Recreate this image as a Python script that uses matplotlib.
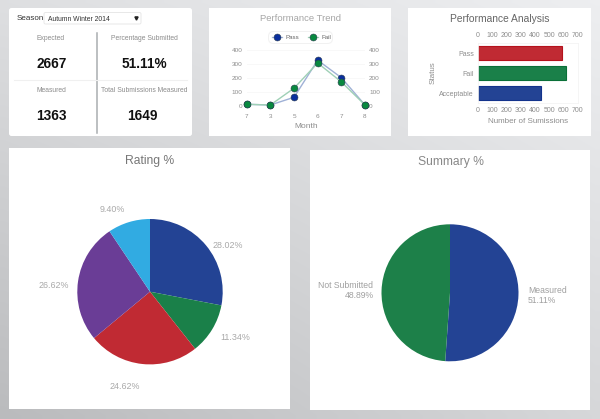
import numpy as np
import matplotlib
matplotlib.use("Agg")
import matplotlib.pyplot as plt
from matplotlib.patches import Rectangle, FancyBboxPatch

plt.rcParams['font.family'] = ['Liberation Sans', 'DejaVu Sans']

W, H = 600, 419

season_label = "Season"
season_value = "Autumn Winter 2014"
kpi_labels = ["Expected", "Percentage Submitted", "Measured", "Total Submissions Measured"]
kpi_values = ["2667", "51.11%", "1363", "1649"]

trend_months = ["7", "3", "5", "6", "7", "8"]
trend_pass = [10, 5, 60, 325, 200, 5]
trend_fail = [10, 5, 125, 305, 170, 5]

bar_status = ["Pass", "Fail", "Acceptable"]
bar_values = [592, 620, 443]
bar_colors = ["#c02a33", "#1a8049", "#234394"]
bar_edges = ["#b5121c", "#0a7038", "#13338c"]

rating_values = [28.02, 11.34, 24.62, 26.62, 9.40]
rating_labels = ["28.02%", "11.34%", "24.62%", "26.62%", "9.40%"]
rating_colors = ["#234394", "#1a8049", "#c02a33", "#6a3d96", "#31abe2"]

summary_values = [51.11, 48.89]
summary_labels = ["Measured\n51.11%", "Not Submitted\n48.89%"]
summary_colors = ["#234394", "#1d8049"]

fig = plt.figure(figsize=(W / 100, H / 100), dpi=100)


def axpx(x0, y0, x1, y1, **kw):
    return fig.add_axes([x0 / W, 1 - y1 / H, (x1 - x0) / W, (y1 - y0) / H], **kw)


# page background and cards, in pixel coordinates
bg = axpx(0, 0, W, H)
bg.set_xlim(0, W)
bg.set_ylim(H, 0)
bg.axis("off")
yy, xx = np.mgrid[0:1:60j, 0:1:80j]
shade = (1 - yy) * (0.87 * (1 - xx) + 0.93 * xx) + yy * (0.73 * (1 - xx) + 0.84 * xx)
rgb = np.dstack([shade, shade + 0.004, shade + 0.012]).clip(0, 1)
bg.imshow(rgb, extent=(0, W, H, 0), aspect="auto", interpolation="bilinear")
for x0, y0, x1, y1, r in [(9, 8, 192, 136, 2.5), (209, 8, 391, 136, 0), (408, 8, 591, 136, 0)]:
    bg.add_patch(FancyBboxPatch((x0 + r, y0 + r), x1 - x0 - 2 * r, y1 - y0 - 2 * r,
                                boxstyle=f"round,pad={r},rounding_size={r}",
                                fc="white", ec="none"))
bg.add_patch(Rectangle((9, 148), 281, 261, fc="white", ec="none"))
bg.add_patch(Rectangle((310, 150), 280, 260, fc="white", ec="none"))

# KPI card
bg.text(17, 18.5, season_label, fontsize=5.8, color="#333333", va="center")
bg.add_patch(FancyBboxPatch((45, 13.5), 95, 9.5, boxstyle="round,pad=1,rounding_size=1.5",
                            fc="white", ec="#e8e8e8", lw=0.7))
bg.text(48.5, 19.5, season_value, fontsize=4.9, color="#333333", va="center")
bg.plot([136], [18.3], marker="v", ms=2.3, color="#222222", ls="none")
bg.plot([96.7, 96.7], [33, 132.7], color="#a9adb0", lw=1.1)
bg.plot([14, 187], [80, 80], color="#f0f0f0", lw=0.8)
kpi_xy = [(51, 39), (144, 39), (51, 90.7), (144.3, 90.7)]
val_xy = [(51.5, 64), (144.5, 64), (51.5, 116), (142.7, 116)]
for (x, y), lab, val, (vx, vy) in zip(kpi_xy, kpi_labels, kpi_values, val_xy):
    bg.text(x, y, lab, fontsize=4.85, color="#8c8c8c", ha="center", va="center")
    bg.text(vx, vy, val, fontsize=9.8, color="#111111", ha="center", va="center", fontweight="bold")

# Performance Trend
ax = axpx(246.7, 49.7, 365, 105.7)
xpos = np.arange(len(trend_months))
ax.set_xlim(0.01, 5)
ax.set_ylim(0, 400)
for vals, col, edge, lab, z in [(trend_pass, "#9fb1d6", "#0a2f9e", "Pass", 3),
                                (trend_fail, "#9fd0b6", "#08893f", "Fail", 4)]:
    ax.plot(xpos, vals, color=col, lw=1.0, marker="o", ms=5.0, mfc=edge,
            mec="#2c3e50", mew=0.4, clip_on=False, zorder=z, label=lab)
for s in ax.spines.values():
    s.set_visible(False)
ax.set_yticks([0, 100, 200, 300, 400])
ax.grid(axis="y", color="#f7f7f7", lw=0.6)
ax.set_xticks(xpos, trend_months)
ax.tick_params(length=0, labelsize=4.6, labelcolor="#8d8d8d", pad=6)
ax.tick_params(axis="y", labelright=True, pad=3)
ax.set_xlabel("Month", fontsize=6.0, color="#8d8d8d", labelpad=2.5)
bg.text(300, 18.3, "Performance Trend", fontsize=6.8, color="#a6a6a6", ha="center", va="center")
bg.add_patch(FancyBboxPatch((270, 33), 61, 9, boxstyle="round,pad=1.5,rounding_size=5",
                            fc="white", ec="#f1f1f1", lw=0.7))
for x, col, edge, lab in [(277, "#9fb1d6", "#0a2f9e", "Pass"), (313, "#9fd0b6", "#08893f", "Fail")]:
    bg.plot([x - 5, x + 5], [37.5, 37.5], color=col, lw=0.9)
    bg.plot([x], [37.5], marker="o", ms=5.0, mfc=edge, mec="#2c3e50", mew=0.4)
    bg.text(x + 8, 37.5, lab, fontsize=4.4, color="#666666", va="center")

# Performance Analysis
ax = axpx(478, 43, 577.7, 103)
ypos = np.arange(len(bar_status))
ax.barh(ypos, bar_values, height=0.67, color=bar_colors, edgecolor=bar_edges, lw=0.8)
ax.set_xlim(0, 700)
ax.set_ylim(2.5, -0.5)
ax.set_xticks(range(0, 701, 100))
ax.set_yticks(ypos, bar_status)
ax.tick_params(length=0, labelsize=5.0, labelcolor="#8d8d8d", pad=3)
ax.tick_params(axis="x", labeltop=True, pad=3)
for s in ax.spines.values():
    s.set_color("#f4f4f4")
    s.set_linewidth(0.6)
ax.set_xlabel("Number of Sumissions", fontsize=5.8, color="#8d8d8d", labelpad=2.5)
ax.set_ylabel("Status", fontsize=5.8, color="#8d8d8d", labelpad=2)
bg.text(500, 18.7, "Performance Analysis", fontsize=7.4, color="#666666", ha="center", va="center")


def pie_axes(cx, cy, r):
    return axpx(cx - r, cy - r, cx + r, cy + r)


# Rating %
ax = pie_axes(150, 291.7, 72.7)
ax.pie(rating_values, colors=rating_colors, startangle=90, counterclock=False, radius=1,
       center=(0, 0), frame=True, wedgeprops=dict(lw=0))
ax.set_xlim(-1, 1)
ax.set_ylim(-1, 1)
ax.axis("off")
bg.text(150, 160.7, "Rating %", fontsize=8.7, color="#777777", ha="center", va="center")
for (x, y), lab in zip([(228, 245.7), (235, 337.7), (125, 386.7), (54, 285), (112.7, 209.3)], rating_labels):
    bg.text(x, y, lab, fontsize=6.4, color="#a9a9a9", ha="center", va="center")

# Summary %
ax = pie_axes(450, 292.8, 68.5)
ax.pie(summary_values, colors=summary_colors, startangle=90, counterclock=False, radius=1,
       center=(0, 0), frame=True, wedgeprops=dict(lw=0))
ax.set_xlim(-1, 1)
ax.set_ylim(-1, 1)
ax.axis("off")
bg.text(451, 162.3, "Summary %", fontsize=8.7, color="#888888", ha="center", va="center")
bg.text(528, 295.8, summary_labels[0], fontsize=6.2, color="#a0a0a0", ha="left", va="center", linespacing=1.15)
bg.text(373.5, 290.5, summary_labels[1], fontsize=6.2, color="#a0a0a0", ha="right", va="center", linespacing=1.15)

fig.savefig("out.png", dpi=100)
